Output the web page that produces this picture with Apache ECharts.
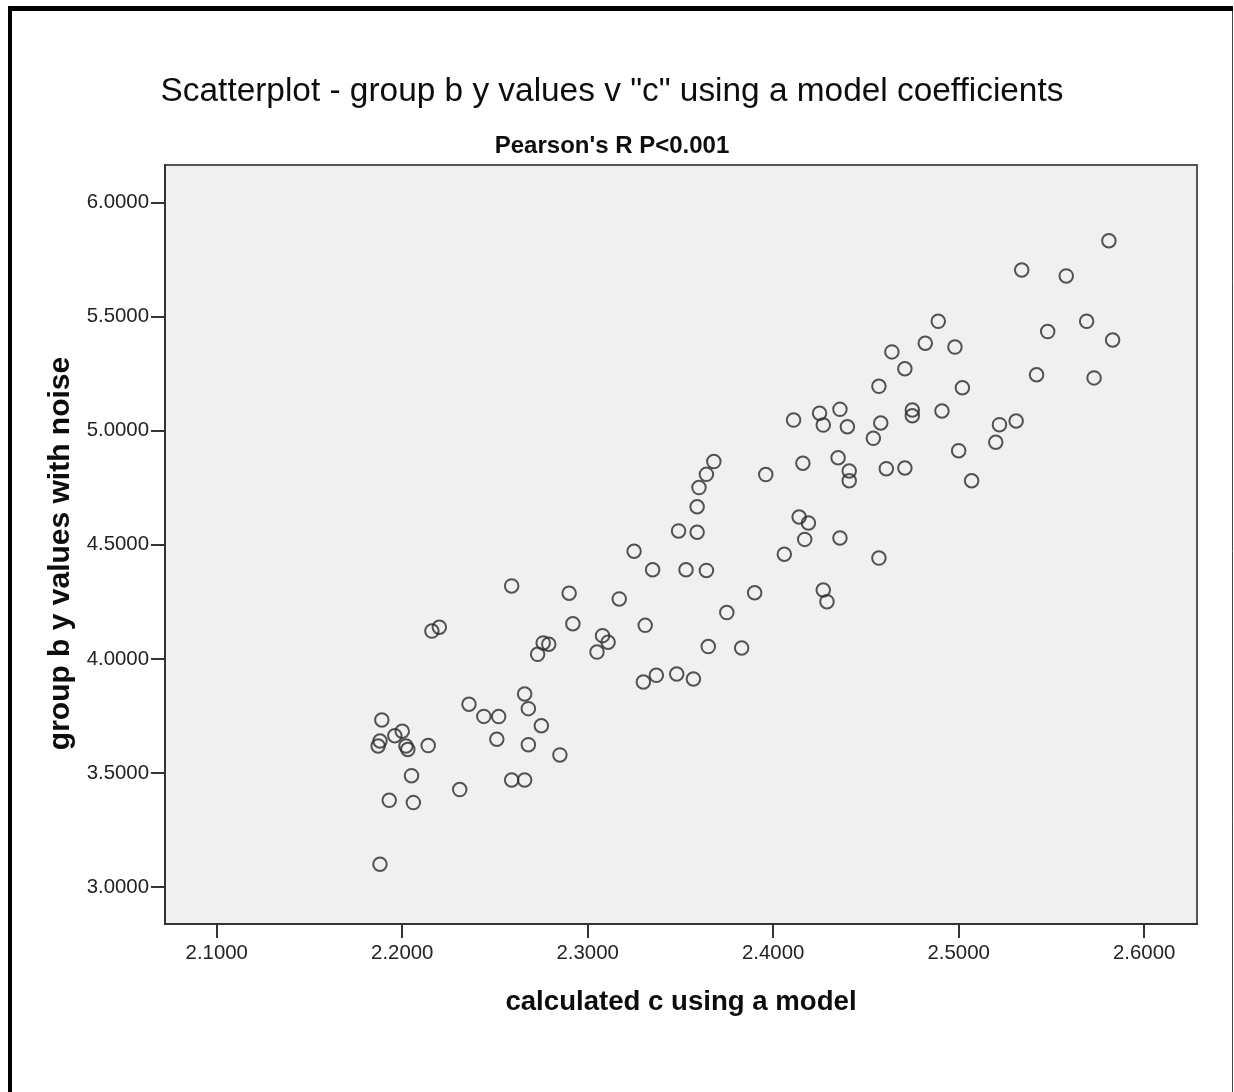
<!DOCTYPE html>
<html>
<head>
<meta charset="utf-8">
<script src="https://cdn.jsdelivr.net/npm/echarts@6/dist/echarts.min.js"></script>
<style>
  html, body { margin: 0; padding: 0; background: #ffffff; }
  #chart { width: 1234px; height: 1092px; }
</style>
</head>
<body>
<div id="chart"></div>
<script>
// ---- data ----
const titleText = 'Scatterplot - group b y values v "c" using a model coefficients';
const subtitleText = "Pearson's R P<0.001";
const xAxisTitle = 'calculated c using a model';
const yAxisTitle = 'group b y values with noise';

const xTicks = [2.1, 2.2, 2.3, 2.4, 2.5, 2.6];
const yTicks = [3.0, 3.5, 4.0, 4.5, 5.0, 5.5, 6.0];

const calculatedC = [
  2.259, 2.290, 2.317, 2.216, 2.220, 2.292, 2.331, 2.276, 2.279, 2.273,
  2.308, 2.311, 2.305, 2.330, 2.266, 2.268, 2.236, 2.244, 2.252, 2.275,
  2.189, 2.200, 2.196, 2.188, 2.187, 2.202, 2.203, 2.214, 2.251, 2.268,
  2.285, 2.205, 2.259, 2.266, 2.231, 2.193, 2.206, 2.188,
  2.411, 2.425, 2.427, 2.436, 2.440, 2.458, 2.454, 2.475, 2.475, 2.491,
  2.368, 2.364, 2.360, 2.359, 2.349, 2.359, 2.396, 2.416, 2.435, 2.441,
  2.441, 2.461, 2.471, 2.414, 2.419, 2.417, 2.436, 2.406, 2.457, 2.325,
  2.335, 2.353, 2.364, 2.390, 2.427, 2.429, 2.375, 2.365, 2.383, 2.337,
  2.348, 2.357,
  2.581, 2.534, 2.558, 2.489, 2.569, 2.548, 2.583, 2.482, 2.498, 2.464,
  2.471, 2.542, 2.573, 2.457, 2.502, 2.522, 2.531, 2.520, 2.500, 2.507
];
const groupBY = [
  4.320, 4.288, 4.263, 4.122, 4.139, 4.154, 4.147, 4.070, 4.064, 4.020,
  4.102, 4.073, 4.030, 3.899, 3.846, 3.782, 3.801, 3.748, 3.747, 3.707,
  3.732, 3.683, 3.663, 3.640, 3.618, 3.618, 3.603, 3.620, 3.648, 3.624,
  3.579, 3.488, 3.469, 3.469, 3.427, 3.380, 3.370, 3.100,
  5.047, 5.077, 5.025, 5.094, 5.018, 5.034, 4.967, 5.091, 5.066, 5.087,
  4.865, 4.809, 4.751, 4.667, 4.561, 4.555, 4.808, 4.858, 4.882, 4.824,
  4.781, 4.834, 4.837, 4.622, 4.596, 4.524, 4.530, 4.459, 4.442, 4.472,
  4.391, 4.391, 4.388, 4.290, 4.302, 4.251, 4.203, 4.054, 4.048, 3.928,
  3.934, 3.912,
  5.833, 5.705, 5.679, 5.480, 5.480, 5.435, 5.398, 5.384, 5.367, 5.346,
  5.272, 5.246, 5.232, 5.195, 5.189, 5.027, 5.043, 4.950, 4.913, 4.781
];

// axis extents (scale range of the plot frame)
const xMin = 2.0721, xMax = 2.6285;
const yMin = 2.8378, yMax = 6.1653;

const points = calculatedC.map((x, i) => [x, groupBY[i]]);
const FONT = 'Liberation Sans, Arial, sans-serif';

const chart = echarts.init(document.getElementById('chart'), null, { renderer: 'canvas' });
chart.setOption({
  backgroundColor: '#ffffff',
  animation: false,
  title: [
    {
      text: titleText,
      left: 607, top: 70, textAlign: 'center',
      textStyle: { fontFamily: FONT, fontSize: 33.4, fontWeight: 'normal', color: '#0d0d0d' }
    },
    {
      text: subtitleText,
      left: 607, top: 129, textAlign: 'center',
      textStyle: { fontFamily: FONT, fontSize: 24, fontWeight: 'bold', color: '#0d0d0d' }
    }
  ],
  grid: {
    left: 165, top: 165, right: 37, bottom: 168,
    show: true, backgroundColor: '#f0f0f0',
    borderColor: '#555', borderWidth: 2
  },
  xAxis: {
    type: 'value', min: xMin, max: xMax,
    name: xAxisTitle, nameLocation: 'middle', nameGap: 64,
    nameTextStyle: { fontFamily: FONT, fontSize: 27.6, fontWeight: 'bold', color: '#0d0d0d' },
    axisLine: { show: true, lineStyle: { color: '#333', width: 2 } },
    axisTick: { show: true, length: 14, customValues: xTicks, lineStyle: { color: '#333', width: 2 } },
    axisLabel: {
      customValues: xTicks, margin: 19,
      fontFamily: FONT, fontSize: 20.4, color: '#222',
      formatter: v => Number(v).toFixed(4)
    },
    splitLine: { show: false }
  },
  yAxis: {
    type: 'value', min: yMin, max: yMax,
    name: yAxisTitle, nameLocation: 'middle', nameGap: 88,
    nameTextStyle: {
      fontFamily: FONT, fontSize: 30, fontWeight: 'bold', color: '#0d0d0d',
      padding: [0, 18, 0, 0]
    },
    axisLine: { show: true, lineStyle: { color: '#333', width: 2 } },
    axisTick: { show: true, length: 14, customValues: yTicks, lineStyle: { color: '#333', width: 2 } },
    axisLabel: {
      customValues: yTicks, margin: 16,
      fontFamily: FONT, fontSize: 20.4, color: '#222',
      formatter: v => Number(v).toFixed(4)
    },
    splitLine: { show: false }
  },
  series: [{
    type: 'scatter',
    data: points,
    symbol: 'circle',
    symbolSize: 13.5,
    itemStyle: { color: 'rgba(0,0,0,0)', borderColor: '#2a2a2a', borderWidth: 2 }
  }],
  graphic: [
    { type: 'rect', shape: { x: 8, y: 6, width: 4, height: 1086 }, style: { fill: '#000' }, silent: true },
    { type: 'rect', shape: { x: 8, y: 6, width: 1225, height: 5 }, style: { fill: '#000' }, silent: true },
    { type: 'line', shape: { x1: 1232.5, y1: 11, x2: 1232.5, y2: 1092 }, style: { stroke: '#444', lineWidth: 1 }, silent: true }
  ]
});
</script>
</body>
</html>
